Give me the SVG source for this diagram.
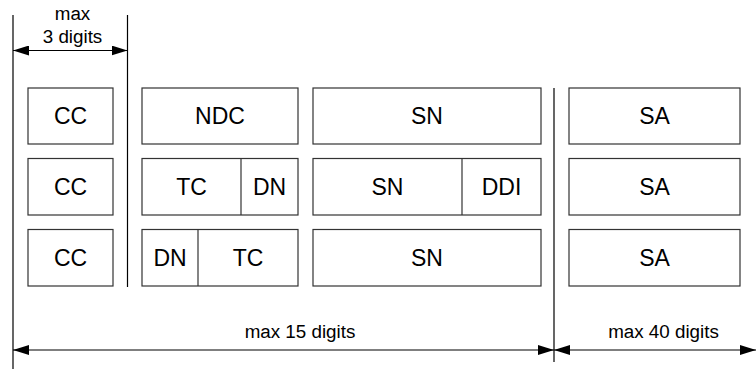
<svg xmlns="http://www.w3.org/2000/svg" width="756" height="369" viewBox="0 0 756 369">
<defs>
<style>
text{font-family:"Liberation Sans",Arial,sans-serif;font-size:18.8px;fill:#000;text-anchor:middle}
.n text{font-size:23px}
.b{fill:#fff;stroke:#333;stroke-width:1.2}
.l{stroke:#000;stroke-width:1.2;fill:none}
.d{stroke:#333;stroke-width:1.2}
</style>
<marker id="ah" viewBox="0 0 16 10" refX="16" refY="5" markerWidth="16" markerHeight="10" markerUnits="userSpaceOnUse" orient="auto-start-reverse"><path d="M0,0 L16,5 L0,10 Z" fill="#000"/></marker>
</defs>
<g id="connectors">
<line class="l" x1="13" y1="15" x2="13" y2="369"/>
<line class="l" x1="127.5" y1="15" x2="127.5" y2="287"/>
<line class="l" x1="554" y1="88" x2="554" y2="362"/>
<line class="l" x1="13" y1="50.5" x2="127.5" y2="50.5" marker-start="url(#ah)" marker-end="url(#ah)"/>
<line class="l" x1="13" y1="350" x2="554" y2="350" marker-start="url(#ah)" marker-end="url(#ah)"/>
<line class="l" x1="554" y1="350" x2="756" y2="350" marker-start="url(#ah)" marker-end="url(#ah)"/>
</g>
<g id="labels">
<text x="72.5" y="20">max</text>
<text x="72.5" y="43">3 digits</text>
<text x="300" y="338">max 15 digits</text>
<text x="663.5" y="338">max 40 digits</text>
</g>
<g class="n">
<g id="cc1"><rect class="b" x="28" y="88" width="85" height="56"/><text x="70.5" y="124">CC</text></g>
<g id="cc2"><rect class="b" x="28" y="158.5" width="85" height="56.5"/><text x="70.5" y="195">CC</text></g>
<g id="cc3"><rect class="b" x="28" y="229.5" width="85" height="56.5"/><text x="70.5" y="266">CC</text></g>
<g id="ndc"><rect class="b" x="142" y="88" width="156" height="56"/><text x="220" y="124">NDC</text></g>
<g id="tcdn"><rect class="b" x="142" y="158.5" width="156" height="56.5"/><line class="d" x1="241" y1="158.5" x2="241" y2="215"/><text x="191.5" y="195">TC</text><text x="269.5" y="195">DN</text></g>
<g id="dntc"><rect class="b" x="142" y="229.5" width="156" height="56.5"/><line class="d" x1="198" y1="229.5" x2="198" y2="286"/><text x="170" y="266">DN</text><text x="248" y="266">TC</text></g>
<g id="sn1"><rect class="b" x="313" y="88" width="228" height="56"/><text x="427" y="124">SN</text></g>
<g id="snddi"><rect class="b" x="313" y="158.5" width="228" height="56.5"/><line class="d" x1="462" y1="158.5" x2="462" y2="215"/><text x="387.5" y="195">SN</text><text x="501.5" y="195">DDI</text></g>
<g id="sn3"><rect class="b" x="313" y="229.5" width="228" height="56.5"/><text x="427" y="266">SN</text></g>
<g id="sa1"><rect class="b" x="569" y="88" width="171" height="56"/><text x="654.5" y="124">SA</text></g>
<g id="sa2"><rect class="b" x="569" y="158.5" width="171" height="56.5"/><text x="654.5" y="195">SA</text></g>
<g id="sa3"><rect class="b" x="569" y="229.5" width="171" height="56.5"/><text x="654.5" y="266">SA</text></g>
</g>
</svg>
